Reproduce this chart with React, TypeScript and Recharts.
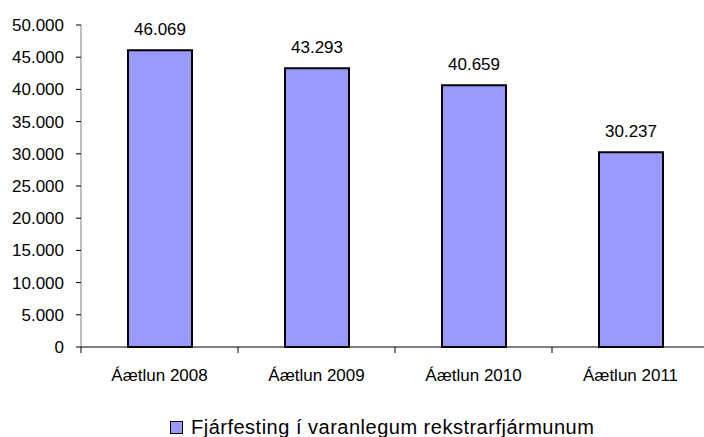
import { BarChart, Bar, XAxis, YAxis, LabelList } from 'recharts';

const categories = ['Áætlun 2008', 'Áætlun 2009', 'Áætlun 2010', 'Áætlun 2011'];
const values = [46069, 43293, 40659, 30237];
const yTicks = [0, 5000, 10000, 15000, 20000, 25000, 30000, 35000, 40000, 45000, 50000];
const seriesName = 'Fjárfesting í varanlegum rekstrarfjármunum';

const data = categories.map((name, i) => ({ name, value: values[i] }));

const FONT = '"Liberation Sans", Arial, sans-serif';
const fmt = (v: number) => v.toLocaleString('de-DE');

const W = 704;
const H = 437;
const LEFT = 81;
const RIGHT = -5;
const STEP = (W - LEFT - RIGHT) / categories.length;

const CategoryTick = (props: any) => {
  const { x, y, payload } = props;
  return (
    <g>
      <line x1={x - STEP / 2} y1={y} x2={x - STEP / 2} y2={y + 6} stroke="#000" />
      <text x={x} y={y + 34} textAnchor="middle" fontSize={17} fill="#000" fontFamily={FONT}>
        {payload.value}
      </text>
    </g>
  );
};

const App = () => (
  <div style={{ position: 'absolute', left: 0, top: 0, width: W, height: H, background: '#fff' }}>
    <BarChart width={W} height={H} data={data} margin={{ top: 25, right: RIGHT, bottom: 0, left: 0 }}>
      <YAxis
        width={LEFT}
        domain={[0, 50000]}
        ticks={yTicks}
        interval={0}
        tickFormatter={fmt}
        tickSize={5}
        tickMargin={12}
        axisLine={{ stroke: '#808080' }}
        tickLine={{ stroke: '#000' }}
        tick={{ fontSize: 17, fill: '#000', fontFamily: FONT }}
      />
      <XAxis
        dataKey="name"
        height={90}
        tickSize={0}
        tickMargin={0}
        tickLine={false}
        axisLine={{ stroke: '#000' }}
        interval={0}
        tick={<CategoryTick />}
      />
      <Bar dataKey="value" fill="#9999FF" stroke="#000" strokeWidth={2} barSize={64} isAnimationActive={false}>
        <LabelList
          dataKey="value"
          position="top"
          offset={15}
          formatter={(v: any) => fmt(Number(v))}
          style={{ fontSize: 17, fill: '#000', fontFamily: FONT }}
        />
      </Bar>
    </BarChart>
    <div
      style={{
        position: 'absolute',
        top: 415,
        left: 170,
        height: 24,
        display: 'flex',
        alignItems: 'center',
        fontFamily: FONT,
        fontSize: 20,
        letterSpacing: 0.5,
        color: '#000',
        whiteSpace: 'nowrap',
      }}
    >
      <span
        style={{
          display: 'inline-block',
          width: 11,
          height: 11,
          background: '#9999FF',
          border: '1px solid #000',
          marginRight: 8,
        }}
      />
      <span>{seriesName}</span>
    </div>
  </div>
);

export default App;
